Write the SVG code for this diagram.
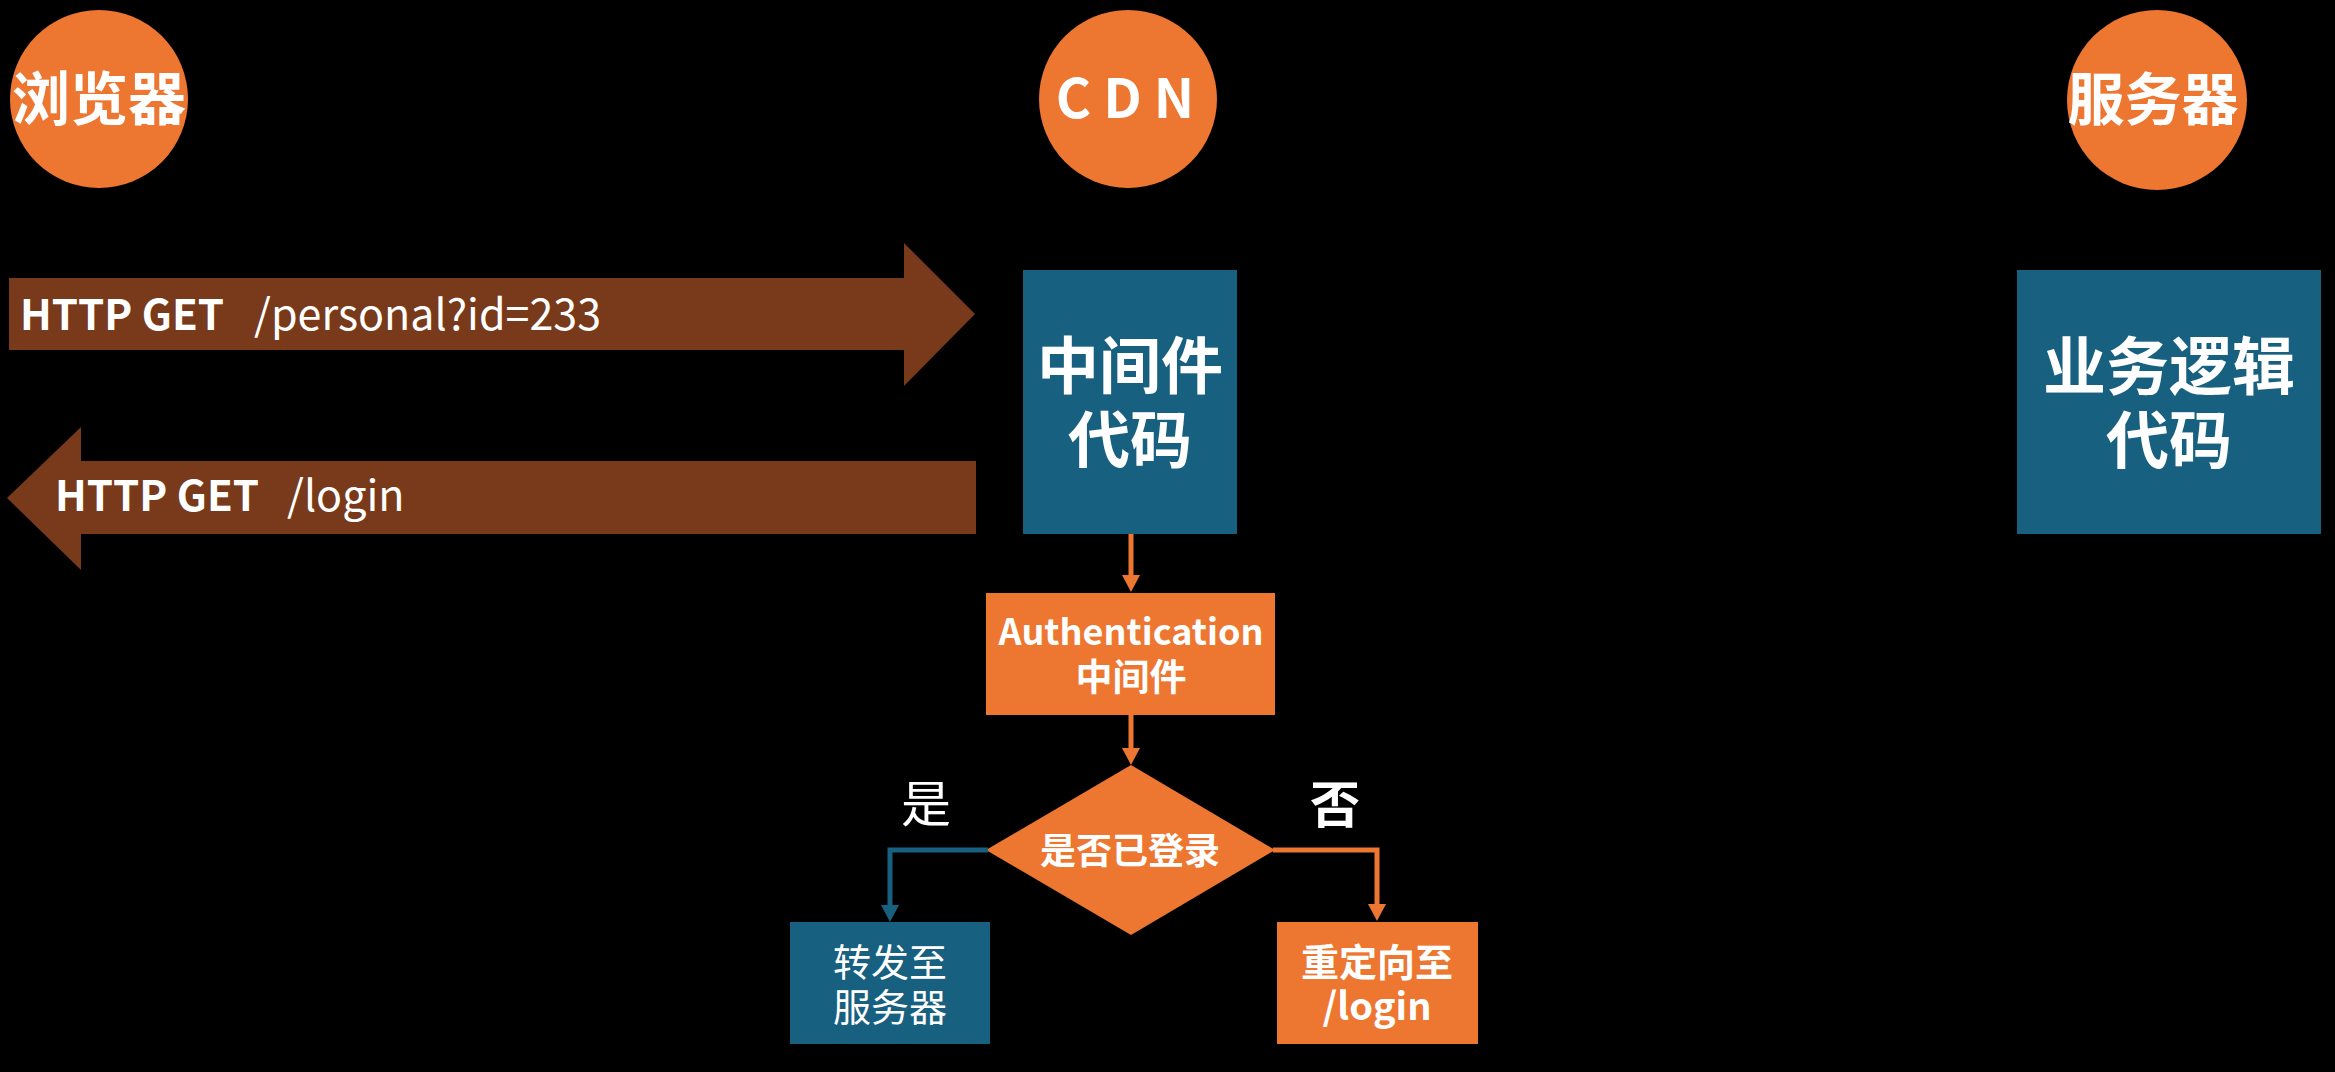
<svg xmlns="http://www.w3.org/2000/svg" width="2335" height="1072" viewBox="0 0 2335 1072">
<style>
.bg{fill:#000}
.circ{fill:#ED7630}
.blue{fill:#17607F}
.org{fill:#ED7630}
.brown{fill:#783A1A}
text{font-family:"Noto Sans CJK SC","Noto Sans",sans-serif;fill:#fff}
.b{font-weight:700}
.r{font-weight:400}
.m{text-anchor:middle}
.cb{fill:none;stroke:#17607F;stroke-width:5}
.co{fill:none;stroke:#ED7630;stroke-width:5}
</style>
<defs>
<marker id="ao" markerUnits="userSpaceOnUse" markerWidth="17" markerHeight="18" refX="0" refY="9" orient="auto" viewBox="0 0 17 18">
<path d="M0,0 L17,9 L0,18 z" fill="#ED7630"/>
</marker>
<marker id="ab" markerUnits="userSpaceOnUse" markerWidth="17" markerHeight="18" refX="0" refY="9" orient="auto" viewBox="0 0 17 18">
<path d="M0,0 L17,9 L0,18 z" fill="#17607F"/>
</marker>
</defs>
<rect class="bg" x="0" y="0" width="2335" height="1072"/>

<g id="browser">
<circle class="circ" cx="99" cy="99" r="89"/>
<text class="b m" x="99" y="120" font-size="58">浏览器</text>
</g>
<g id="cdn">
<circle class="circ" cx="1128" cy="99" r="89"/>
<text class="b m" x="1131" y="118" font-size="54" letter-spacing="12">CDN</text>
</g>
<g id="server">
<circle class="circ" cx="2157" cy="100" r="90"/>
<text class="b m" x="2153" y="120" font-size="57">服务器</text>
</g>

<g id="request-arrow">
<polygon class="brown" points="9,278 904,278 904,243 975,314 904,386 904,350 9,350"/>
<text x="20" y="330" font-size="42"><tspan class="b">HTTP GET</tspan><tspan class="r" dx="30" font-size="43">/personal?id=233</tspan></text>
</g>
<g id="response-arrow">
<polygon class="brown" points="976,461 81,461 81,427 7,498 81,570 81,534 976,534"/>
<text x="55" y="511" font-size="42"><tspan class="b">HTTP GET</tspan><tspan class="r" dx="28" font-size="43">/login</tspan></text>
</g>

<g id="middleware-code">
<rect class="blue" x="1023" y="270" width="214" height="264"/>
<text class="b m" x="1130" y="389" font-size="62">中间件</text>
<text class="b m" x="1130" y="463" font-size="62">代码</text>
</g>
<g id="business-code">
<rect class="blue" x="2017" y="270" width="304" height="264"/>
<text class="b m" x="2169" y="389" font-size="63">业务逻辑</text>
<text class="b m" x="2169" y="463" font-size="63">代码</text>
</g>

<g id="auth-middleware">
<rect class="org" x="986" y="593" width="289" height="122"/>
<text class="b m" x="1131" y="645" font-size="36">Authentication</text>
<text class="b m" x="1131" y="691" font-size="37">中间件</text>
</g>
<g id="logged-in-decision">
<polygon class="org" points="1131,765 1275,850 1131,935 986,850"/>
<text class="b m" x="1130" y="864" font-size="36">是否已登录</text>
</g>
<g id="forward">
<rect class="blue" x="790" y="922" width="200" height="122"/>
<text class="r m" x="890" y="976" font-size="38">转发至</text>
<text class="r m" x="890" y="1021" font-size="38">服务器</text>
</g>
<g id="redirect">
<rect class="org" x="1277" y="922" width="201" height="122"/>
<text class="b m" x="1377" y="976" font-size="38">重定向至</text>
<text class="b m" x="1377" y="1020" font-size="38">/login</text>
</g>

<g id="connectors">
<path class="co" d="M1131 534 V575" marker-end="url(#ao)"/>
<path class="co" d="M1131 715 V748" marker-end="url(#ao)"/>
<path class="cb" d="M988 850 H890 V905" marker-end="url(#ab)"/>
<path class="co" d="M1273 850 H1377 V904" marker-end="url(#ao)"/>
<text class="r m" x="926" y="822" font-size="50">是</text>
<text class="b m" x="1335" y="823" font-size="50">否</text>
</g>
</svg>
